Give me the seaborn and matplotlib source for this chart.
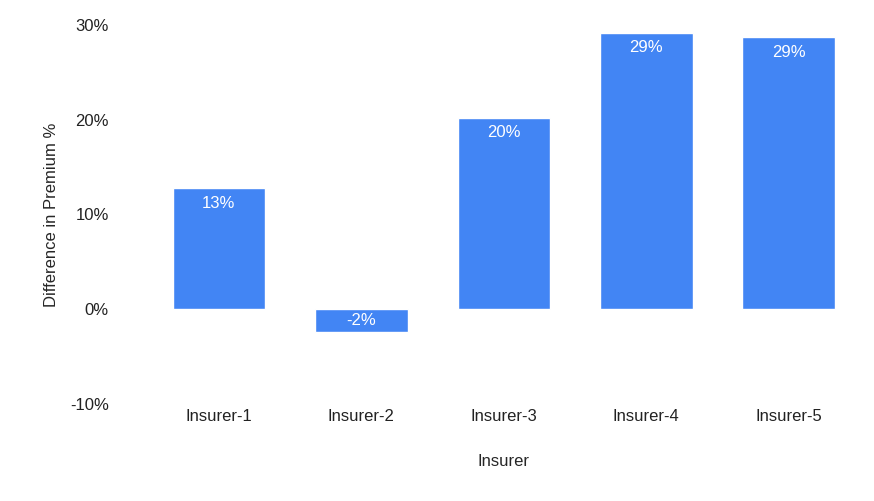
import matplotlib
matplotlib.use("Agg")
import matplotlib.pyplot as plt
import seaborn as sns
import pandas as pd

insurers = ["Insurer-1", "Insurer-2", "Insurer-3", "Insurer-4", "Insurer-5"]
diff_pct = [12.8, -2.4, 20.2, 29.2, 28.7]
labels = ["13%", "-2%", "20%", "29%", "29%"]
yticks = [-10, 0, 10, 20, 30]

sns.set_style("white")
plt.rcParams['font.family'] = ['Liberation Sans', 'DejaVu Sans']

df = pd.DataFrame({"Insurer": insurers, "Diff": diff_pct})
fig = plt.figure(figsize=(8.74, 5.01), dpi=100)
ax = fig.add_axes([0.169, 0.194, 0.815, 0.756])
sns.barplot(data=df, x="Insurer", y="Diff", color="#4285f4", saturation=1, width=0.65, ax=ax)
for i, (v, l) in enumerate(zip(diff_pct, labels)):
    y = v - 1.6 if v > 0 else v + 1.2
    ax.text(i, y, l, ha="center", va="center", color="white", fontsize=12)
ax.set_ylim(-10, 30)
ax.set_xlim(-0.5, 4.5)
ax.set_yticks(yticks)
ax.set_yticklabels([f"{t}%" for t in yticks])
ax.tick_params(axis="both", labelsize=12, length=0, colors="#222222")
ax.tick_params(axis="y", pad=28)
ax.set_xlabel("Insurer", fontsize=12, labelpad=22)
ax.set_ylabel("Difference in Premium %", fontsize=12, labelpad=8)
for s in ax.spines.values():
    s.set_visible(False)
fig.savefig("out.png", dpi=100)
